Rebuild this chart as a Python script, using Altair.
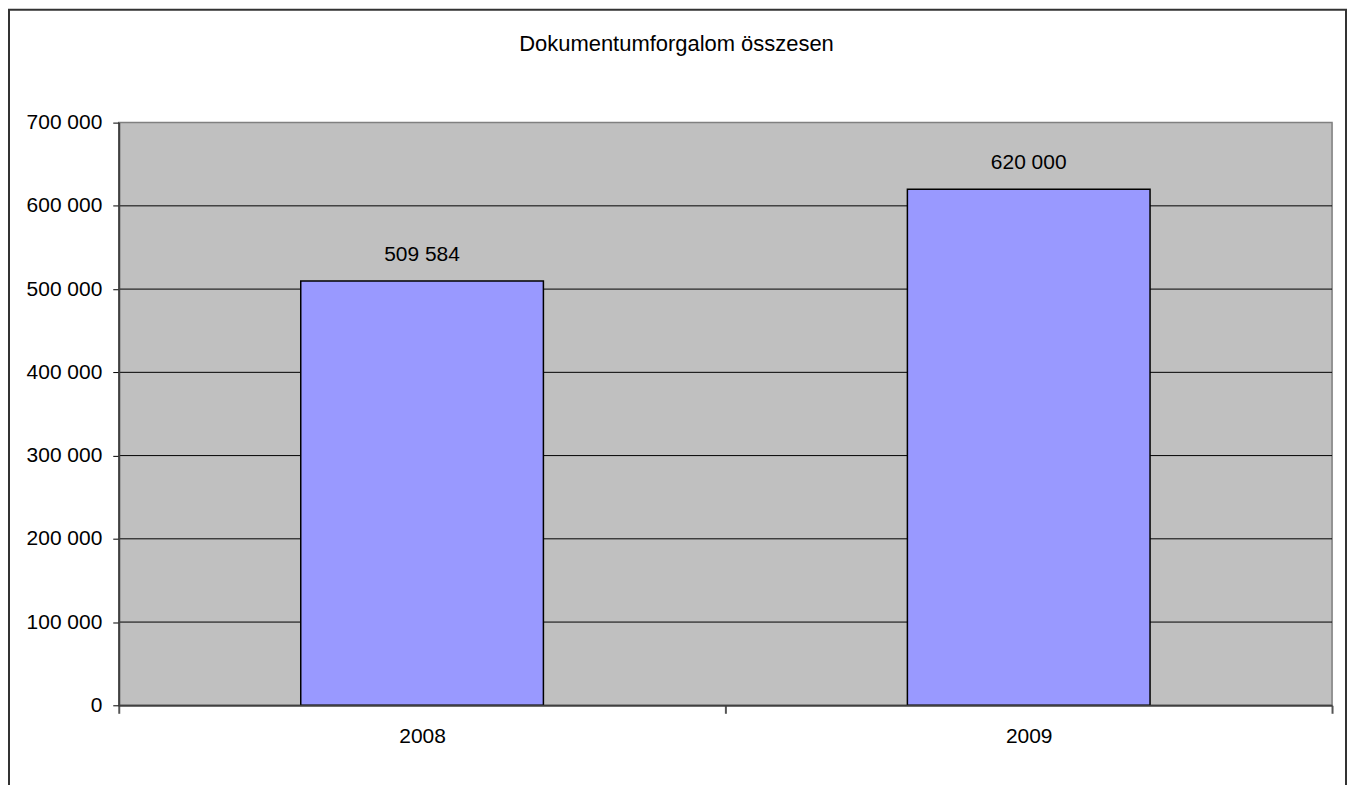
import altair as alt
import pandas as pd

years = ["2008", "2009"]
values = [509584, 620000]
y_ticks = [0, 100000, 200000, 300000, 400000, 500000, 600000, 700000]
grid_values = [100000, 200000, 300000, 400000, 500000, 600000]
title_text = "Dokumentumforgalom összesen"

df = pd.DataFrame({"year": years, "value": values})
grid_df = pd.DataFrame({"g": grid_values})

FONT = "Liberation Sans"
W, H = 1216, 584

base = alt.Chart(df)

x_enc = alt.X(
    "year:N",
    title=None,
    sort=years,
    scale=alt.Scale(paddingInner=0, paddingOuter=0),
    axis=alt.Axis(
        labelAngle=0,
        labelFontSize=21,
        labelFont=FONT,
        labelColor="black",
        labelPadding=12,
        tickBand="extent",
        tickSize=8,
        tickColor="#555555",
        tickWidth=2,
        domainColor="#404040",
        domainWidth=2,
        grid=False,
        zindex=2,
    ),
)

y_enc = alt.Y(
    "value:Q",
    title=None,
    scale=alt.Scale(domain=[0, 700000], nice=False),
    axis=alt.Axis(
        values=y_ticks,
        format=",d",
        labelFontSize=21,
        labelFont=FONT,
        labelColor="black",
        labelPadding=11,
        tickSize=6,
        tickColor="black",
        tickWidth=1,
        domainColor="#404040",
        domainWidth=2,
        grid=False,
        zindex=2,
    ),
)

one = pd.DataFrame({"f": [0]})

background = alt.Chart(one).mark_rect(fill="#C0C0C0", stroke="#808080", strokeWidth=1.5).encode(
    x=alt.value(0), x2=alt.value(W), y=alt.value(0), y2=alt.value(H)
)

grid = alt.Chart(grid_df).mark_rule(color="black", strokeWidth=1).encode(
    y=alt.Y("g:Q"), x=alt.value(0), x2=alt.value(W)
)

bars = base.mark_bar(
    fill="#9999FF", stroke="black", strokeWidth=1.5, width=alt.RelativeBandSize(0.4)
).encode(x=x_enc, y=y_enc)

labels = base.mark_text(
    baseline="alphabetic", dy=-20, fontSize=21, font=FONT, color="black"
).encode(
    x=alt.X("year:N", sort=years),
    y="value:Q",
    text=alt.Text("value:Q", format=",d"),
)

title = alt.Chart(one).mark_text(
    text=title_text, fontSize=22, font=FONT, color="black", baseline="alphabetic", align="center"
).encode(x=alt.value(559), y=alt.value(-72))

frame = alt.Chart(one).mark_rect(
    fillOpacity=0, stroke="#333333", strokeWidth=2, clip=False
).encode(
    x=alt.value(-110), x2=alt.value(1230), y=alt.value(-113), y2=alt.value(700)
)

chart = (
    alt.layer(background, grid, bars, labels, title, frame)
    .properties(
        width=W,
        height=H,
        padding={"left": 111, "top": 114, "right": 16, "bottom": 79},
        autosize=alt.AutoSizeParams(type="none"),
    )
    .configure_view(stroke=None)
    .configure(background="white", locale={"number": {"decimal": ",", "thousands": " ", "grouping": [3], "currency": ["", ""]}})
)

chart.save("out.html", embed_options={"renderer": "svg", "actions": False})
